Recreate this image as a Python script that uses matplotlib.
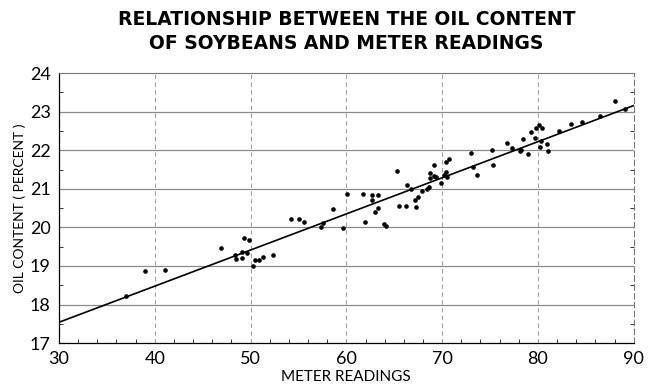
import matplotlib
matplotlib.use("Agg")
import matplotlib.pyplot as plt
from matplotlib.ticker import MultipleLocator

meter = [36.96, 39.0, 41.1, 46.9, 48.4, 48.5, 49.07, 49.1, 49.28, 49.6, 49.83,
         50.28, 50.5, 50.9, 51.26, 52.3, 54.2, 55.1, 55.57, 57.35, 57.6, 58.57,
         59.6, 60.1, 61.7, 61.97, 62.67, 62.7, 63.33, 62.98, 63.3, 63.9, 64.13,
         65.3, 65.46, 66.25, 66.33, 66.74, 67.23, 67.16, 67.5, 67.86, 68.45,
         68.65, 68.76, 68.76, 69.1, 69.18, 69.4, 69.87, 70.2, 70.4, 70.5, 70.37,
         70.68, 73.0, 73.18, 73.6, 75.17, 75.27, 76.76, 77.32, 78.1, 78.2, 78.43,
         78.96, 79.3, 79.7, 79.8, 80.14, 80.45, 80.2, 80.3, 80.9, 81.0, 82.2,
         83.5, 84.6, 86.5, 88.07, 89.1]
oil = [18.23, 18.88, 18.9, 19.46, 19.28, 19.17, 19.35, 19.2, 19.73, 19.33, 19.67,
       19.0, 19.16, 19.16, 19.24, 19.28, 20.23, 20.22, 20.15, 20.02, 20.12, 20.47,
       19.98, 20.86, 20.86, 20.14, 20.84, 20.72, 20.83, 20.39, 20.51, 20.08, 20.04,
       21.47, 20.56, 20.56, 21.09, 20.99, 20.52, 20.71, 20.8, 20.94, 20.99,
       21.05, 21.27, 21.4, 21.62, 21.33, 21.31, 21.16, 21.35, 21.44, 21.3, 21.69,
       21.78, 21.93, 21.56, 21.36, 22.01, 21.63, 22.2, 22.06, 21.97, 22.0, 22.3,
       21.9, 22.48, 22.32, 22.57, 22.65, 22.57, 22.09, 22.23, 22.15, 21.99, 22.51,
       22.69, 22.72, 22.89, 23.27, 23.06]
fit_x = [30, 90]
fit_y = [17.54, 23.16]

x_ticks = [30, 40, 50, 60, 70, 80, 90]
y_ticks = [17, 18, 19, 20, 21, 22, 23, 24]

title = "RELATIONSHIP BETWEEN THE OIL CONTENT\nOF SOYBEANS AND METER READINGS"
xlabel = "METER READINGS"
ylabel = "OIL CONTENT ( PERCENT )"

plt.rcParams['font.family'] = ['Lato', 'DejaVu Sans']

fig = plt.figure(figsize=(6.48, 3.89), dpi=100)
ax = fig.add_axes([0.091, 0.118, 0.887, 0.694])

ax.set_xlim(30, 90)
ax.set_ylim(17, 24)

for yv in y_ticks[1:-1]:
    ax.axhline(yv, color='#8a8a8a', lw=0.9, zorder=1)
for xv in x_ticks[1:-1]:
    ax.axvline(xv, color='#a0a0a0', lw=0.8, ls=(0, (4, 3)), zorder=1)

ax.plot(fit_x, fit_y, color='black', lw=1.2, zorder=3)
ax.scatter(meter, oil, s=11, color='black', zorder=4, linewidths=0)

ax.set_xticks(x_ticks)
ax.set_yticks(y_ticks)
ax.xaxis.set_minor_locator(MultipleLocator(2))
ax.yaxis.set_minor_locator(MultipleLocator(0.5))
ax.tick_params(axis='both', which='major', length=0, labelsize=13, colors='black')
ax.tick_params(axis='x', which='major', pad=6)
ax.tick_params(axis='y', which='major', pad=6)
ax.tick_params(axis='both', which='minor', direction='in', length=3, width=0.7,
               color='#333333')
ax.tick_params(axis='y', which='minor', right=True)

for s in ['left', 'bottom']:
    ax.spines[s].set_color('black')
    ax.spines[s].set_linewidth(0.9)
for s in ['top', 'right']:
    ax.spines[s].set_color('#777777')
    ax.spines[s].set_linewidth(0.8)
ax.spines['right'].set_linestyle((0, (5, 3)))

ax.set_xlabel(xlabel, fontsize=11, labelpad=2)
ax.set_ylabel(ylabel, fontsize=10, labelpad=3)

fig.text(0.535, 0.975, title, ha='center', va='top', fontsize=13.5,
         fontweight='bold', family='DejaVu Sans', linespacing=1.35)

fig.savefig("out.png", dpi=100)
